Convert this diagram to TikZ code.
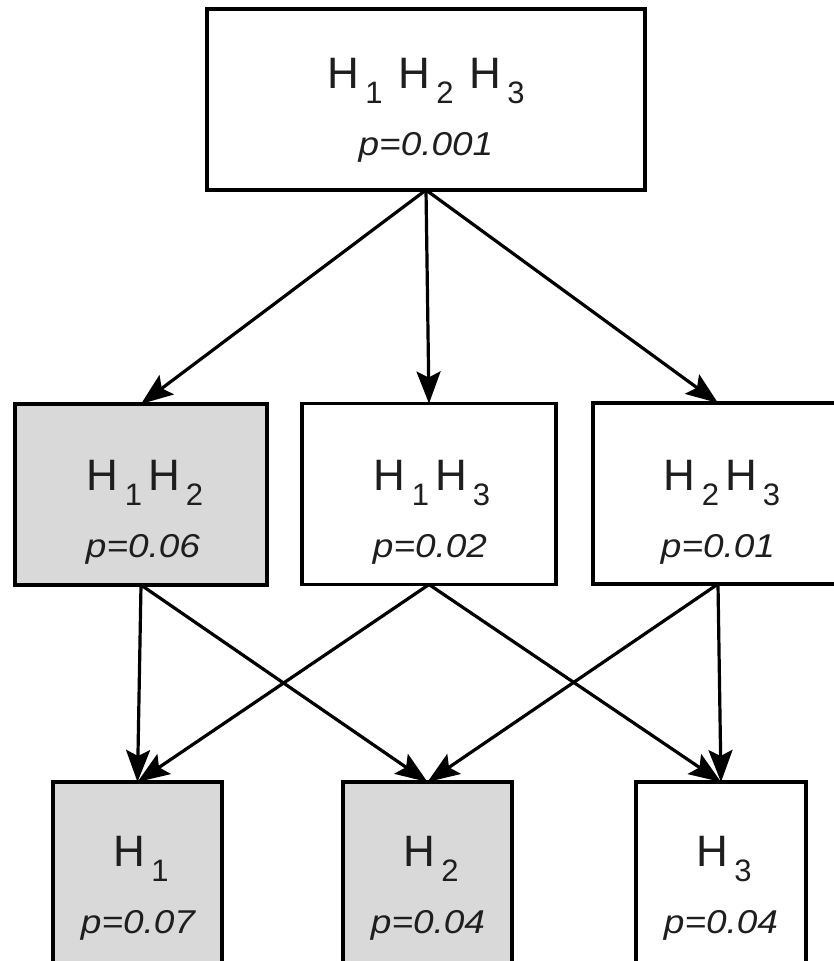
\documentclass[tikz,border=0pt]{standalone}
\usepackage{fontspec}
\setmainfont{Liberation Sans}
\newfontfamily\pfont[FakeStretch=1.12]{Liberation Sans}
\usetikzlibrary{arrows.meta}
\definecolor{boxgray}{HTML}{D9D9D9}
\definecolor{txt}{HTML}{1E1E1E}
\newcommand{\hh}[1]{H\hspace{6pt}\raisebox{-15pt}{\fontsize{31}{31}\selectfont #1}}
\begin{document}
\begin{tikzpicture}[x=1pt,y=-1pt,
  box/.style={draw=black, line width=3.5pt, inner sep=0pt, outer sep=0pt, minimum height=181pt, fill=white},
  shaded/.style={box, fill=boxgray},
  lbl/.style={anchor=base, inner sep=0pt, font=\fontsize{44}{44}\selectfont, text=txt},
  plbl/.style={anchor=base, inner sep=0pt, font=\fontsize{33}{33}\selectfont\pfont\itshape, text=txt},
  arr/.style={line width=3.2pt, -{Stealth[length=32pt,width=24pt,inset=6pt]}}]
\clip (0,0) rectangle (834,961);
\fill[white] (0,0) rectangle (834,961);
% boxes
\node[box, minimum width=438pt] (top) at (426,99.5) {};
\node[shaded, minimum width=252pt] (m1) at (141,494.5) {};
\node[box, minimum width=254pt] (m2) at (429,494) {};
\node[box, minimum width=250pt] (m3) at (718,493.5) {};
\node[shaded, minimum width=169pt] (b1) at (137.5,872.5) {};
\node[shaded, minimum width=169pt] (b2) at (427.5,872.5) {};
\node[box, minimum width=170pt] (b3) at (721,872.5) {};
% texts
\node[lbl] (topH) at (426,88) {\hh{1}\hspace{16pt}\hh{2}\hspace{16pt}\hh{3}};
\node[plbl] (topP) at (426,155) {p=0.001};
\node[lbl] (m1H) at (145,490) {\hh{1}\hspace{6pt}\hh{2}};
\node[plbl] (m1P) at (143,557) {p=0.06};
\node[lbl] (m2H) at (432,490) {\hh{1}\hspace{6pt}\hh{3}};
\node[plbl] (m2P) at (430,557) {p=0.02};
\node[lbl] (m3H) at (722,490) {\hh{2}\hspace{6pt}\hh{3}};
\node[plbl] (m3P) at (718,557) {p=0.01};
\node[lbl] (b1H) at (141,866) {\hh{1}};
\node[plbl] (b1P) at (138,933) {p=0.07};
\node[lbl] (b2H) at (431,866) {\hh{2}};
\node[plbl] (b2P) at (428,933) {p=0.04};
\node[lbl] (b3H) at (724,866) {\hh{3}};
\node[plbl] (b3P) at (721,933) {p=0.04};
% arrows
\draw[arr] (top.south) -- (m1.north);
\draw[arr] (top.south) -- (m2.north);
\draw[arr] (top.south) -- (m3.north);
\draw[arr] (m1.south) -- (b1.north);
\draw[arr] (m1.south) -- (b2.north);
\draw[arr] (m2.south) -- (b1.north);
\draw[arr] (m2.south) -- (b3.north);
\draw[arr] (m3.south) -- (b2.north);
\draw[arr] (m3.south) -- (b3.north);
\end{tikzpicture}
\end{document}
